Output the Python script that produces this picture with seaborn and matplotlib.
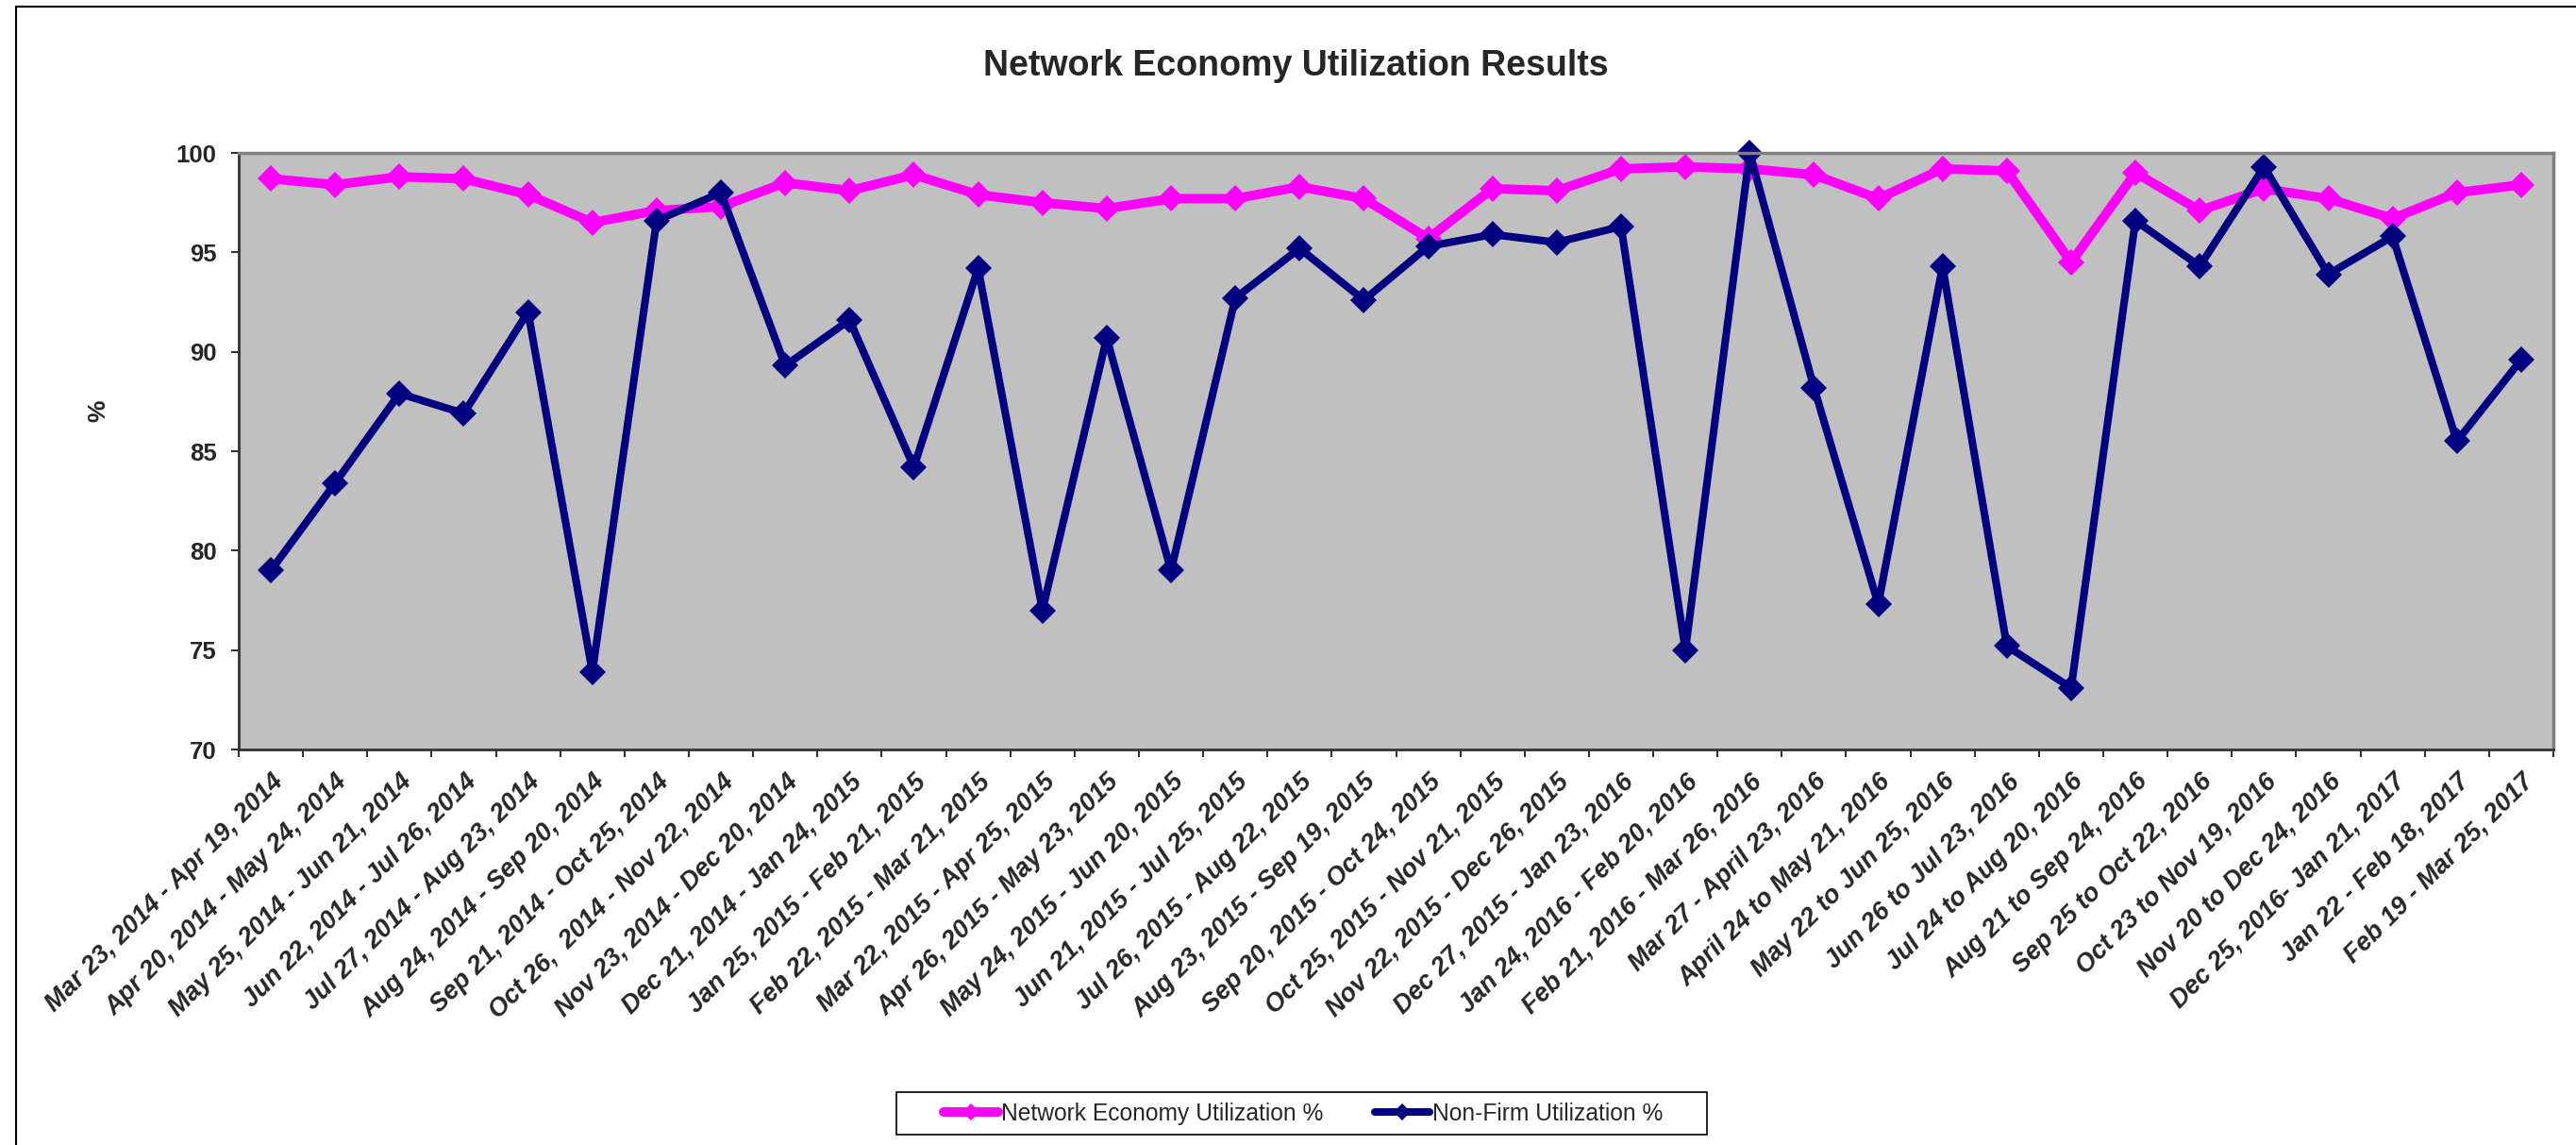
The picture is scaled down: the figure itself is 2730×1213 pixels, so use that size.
import numpy as np
import pandas as pd
import seaborn as sns
import matplotlib.pyplot as plt
from matplotlib.lines import Line2D
from matplotlib.patches import Rectangle

# -----------------------------
# Datos
# -----------------------------
periods = [
    "Mar 23, 2014 - Apr 19, 2014", "Apr 20, 2014 - May 24, 2014",
    "May 25, 2014 - Jun 21, 2014", "Jun 22, 2014 - Jul 26, 2014",
    "Jul 27, 2014 - Aug 23, 2014", "Aug 24, 2014 - Sep 20, 2014",
    "Sep 21, 2014 - Oct 25, 2014", "Oct 26,  2014 - Nov 22, 2014",
    "Nov 23, 2014 - Dec 20, 2014", "Dec 21, 2014 - Jan 24, 2015",
    "Jan 25, 2015 - Feb 21, 2015", "Feb 22, 2015 - Mar 21, 2015",
    "Mar 22, 2015 - Apr 25, 2015", "Apr 26, 2015 - May 23, 2015",
    "May 24, 2015 - Jun 20, 2015", "Jun 21, 2015 - Jul 25, 2015",
    "Jul 26, 2015 - Aug 22, 2015", "Aug 23, 2015 - Sep 19, 2015",
    "Sep 20, 2015 - Oct 24, 2015", "Oct 25, 2015 - Nov 21, 2015",
    "Nov 22, 2015 - Dec 26, 2015", "Dec 27, 2015 - Jan 23, 2016",
    "Jan 24, 2016 - Feb 20, 2016", "Feb 21, 2016 - Mar 26, 2016",
    "Mar 27 - April 23, 2016", "April 24 to May 21, 2016",
    "May 22 to Jun 25, 2016", "Jun 26 to Jul 23, 2016",
    "Jul 24 to Aug 20, 2016", "Aug 21 to Sep 24, 2016",
    "Sep 25 to Oct 22, 2016", "Oct 23 to Nov 19, 2016",
    "Nov 20 to Dec 24, 2016", "Dec 25, 2016- Jan 21, 2017",
    "Jan 22 - Feb 18, 2017", "Feb 19 - Mar 25, 2017",
]

network_economy = [
    98.7, 98.4, 98.8, 98.7, 97.9, 96.5, 97.1, 97.3, 98.5, 98.1, 98.9, 97.9,
    97.5, 97.2, 97.7, 97.7, 98.3, 97.7, 95.7, 98.2, 98.1, 99.2, 99.3, 99.2,
    98.9, 97.7, 99.2, 99.1, 94.5, 99.0, 97.1, 98.2, 97.7, 96.7, 98.0, 98.4,
]

non_firm = [
    79.0, 83.4, 87.9, 86.9, 92.0, 73.9, 96.6, 98.0, 89.3, 91.6, 84.2, 94.2,
    77.0, 90.7, 79.0, 92.7, 95.2, 92.6, 95.3, 95.9, 95.5, 96.3, 75.0, 100.0,
    88.2, 77.3, 94.3, 75.2, 73.1, 96.6, 94.3, 99.3, 93.9, 95.8, 85.5, 89.6,
]

y_ticks = [70, 75, 80, 85, 90, 95, 100]

df = pd.DataFrame({
    "Period": periods,
    "Network Economy Utilization %": network_economy,
    "Non-Firm Utilization %": non_firm,
})
df["pos"] = np.arange(len(df))

# -----------------------------
# Estilo
# -----------------------------
sns.set_style("white")
plt.rcParams["font.family"] = ["Liberation Sans", "DejaVu Sans"]

W, H = 2730, 1213
fig = plt.figure(figsize=(W / 100, H / 100), dpi=100)
ax = fig.add_axes([253 / W, 1 - 794 / H, (2706 - 253) / W, (794 - 162) / H])
ax.set_facecolor("#C0C0C0")

sns.lineplot(data=df, x="pos", y="Network Economy Utilization %", sort=False,
             color="#FF00FF", linewidth=7.2, marker="D", markersize=14,
             markeredgewidth=0, clip_on=False,
             label="Network Economy Utilization %", ax=ax)
sns.lineplot(data=df, x="pos", y="Non-Firm Utilization %", sort=False,
             color="#000080", linewidth=5.8, marker="D", markersize=14,
             markeredgewidth=0, clip_on=False,
             label="Non-Firm Utilization %", ax=ax)

ax.set_xlim(-0.5, len(df) - 0.5)
ax.set_ylim(70, 100)
ax.set_xlabel("")
ax.set_ylabel("")

# eje x: etiquetas en el centro, marcas entre categorias
ax.set_xticks(df["pos"])
ax.set_xticklabels(periods, rotation=45, ha="right", rotation_mode="anchor",
                   fontsize=19.5, fontweight="bold", fontstyle="italic")
ax.set_xticks(np.arange(-0.5, len(df), 1), minor=True)
ax.tick_params(axis="x", which="major", length=0, pad=15)
ax.tick_params(axis="x", which="minor", length=6, width=1.5, color="#333333",
               direction="out", bottom=True)

ax.set_yticks(y_ticks)
ax.set_yticklabels([str(v) for v in y_ticks], fontsize=18.5, fontweight="bold")
ax.tick_params(axis="y", length=6, width=1.5, color="#333333", pad=11,
               direction="out", left=True)

for side in ["left", "bottom"]:
    ax.spines[side].set_color("#333333")
    ax.spines[side].set_linewidth(2)
for side in ["top", "right"]:
    ax.spines[side].set_color("#808080")
    ax.spines[side].set_linewidth(2.5)

# titulo y etiqueta del eje y
fig.text(1373 / W, 1 - 80 / H, "Network Economy Utilization Results",
         ha="center", va="baseline", fontsize=27, fontweight="bold")
fig.text(104 / W, 1 - 435 / H, "%", rotation=90, ha="center", va="center",
         fontsize=19, fontweight="bold")

# leyenda (caja dibujada aparte para el margen horizontal)
handles, labels = ax.get_legend_handles_labels()
ax.get_legend().remove()
leg = fig.legend(handles, labels, loc="center",
                 bbox_to_anchor=(1381 / W, 1 - 1180 / H), ncol=2,
                 frameon=False, fontsize=17.7, handlelength=2.36,
                 handletextpad=0.12, columnspacing=2.2,
                 borderpad=0, borderaxespad=0)
for h in leg.legend_handles:
    h.set_markersize(9)
fig.add_artist(Rectangle((950 / W, 1 - 1202 / H), (1809 - 950) / W, 45 / H,
                         transform=fig.transFigure, fill=False,
                         edgecolor="black", linewidth=1.2))

# borde exterior (solo arriba e izquierda visibles)
fig.add_artist(Line2D([17 / W, 1], [1 - 7 / H, 1 - 7 / H],
                      transform=fig.transFigure, color="black", lw=1.5))
fig.add_artist(Line2D([17 / W, 17 / W], [0, 1 - 7 / H],
                      transform=fig.transFigure, color="black", lw=1.5))

fig.savefig("out.png", dpi=100)
